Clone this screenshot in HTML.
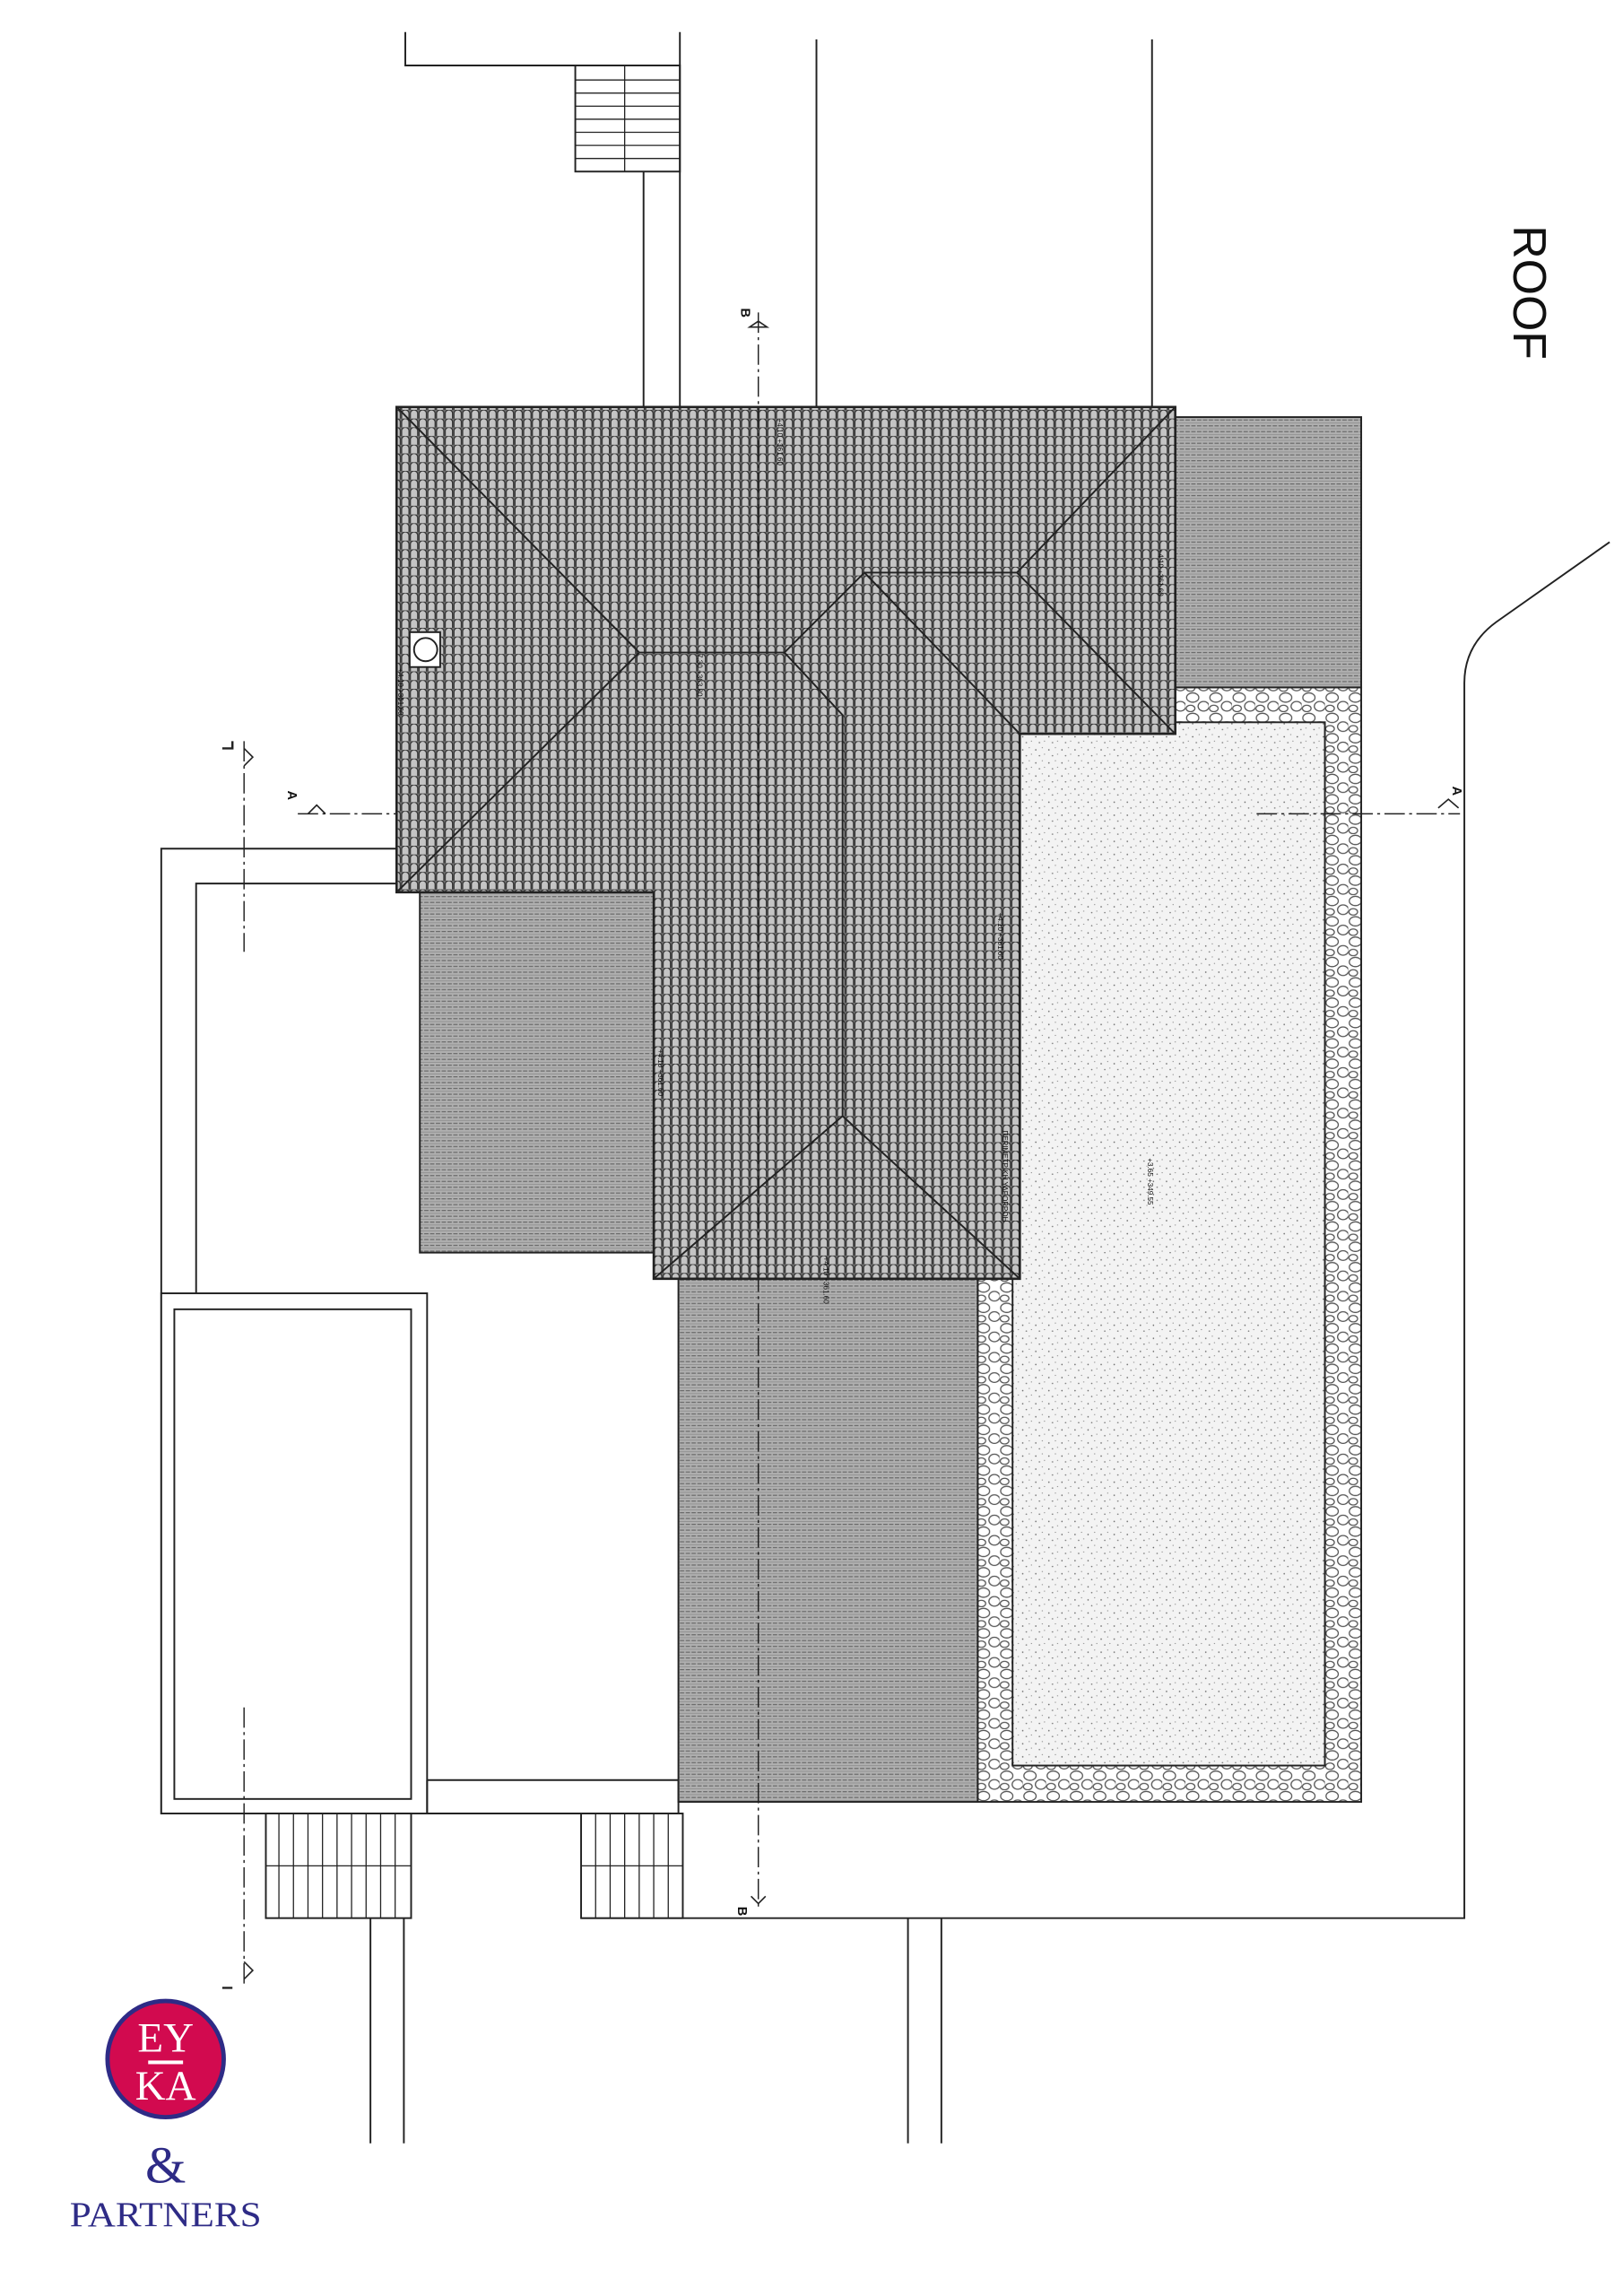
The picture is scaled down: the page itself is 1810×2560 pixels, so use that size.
<!DOCTYPE html>
<html><head><meta charset="utf-8"><style>html,body{margin:0;padding:0;background:#fff}svg{display:block}</style></head>
<body>
<svg width="1810" height="2560" viewBox="0 0 1117.2 1580" xmlns="http://www.w3.org/2000/svg">
<defs>
<pattern id="tile" width="6" height="6" patternUnits="userSpaceOnUse">
<rect width="6" height="6" fill="#6e6e6e"/>
<path d="M0.5,6 V2.5 A2.5,2.5 0 0 1 5.5,2.5 V6" fill="#c4c4c4" stroke="#2a2a2a" stroke-width="0.7"/>
</pattern>
<pattern id="slab" width="8" height="4" patternUnits="userSpaceOnUse">
<rect width="8" height="4" fill="#b0b0b0"/>
<line x1="0" y1="1" x2="8" y2="1" stroke="#6a6a6a" stroke-width="0.7" stroke-dasharray="3,1"/>
<line x1="0" y1="3" x2="8" y2="3" stroke="#8a8a8a" stroke-width="0.5"/>
</pattern>
<pattern id="stone" width="16" height="14" patternUnits="userSpaceOnUse">
<rect width="16" height="14" fill="#fff"/>
<ellipse cx="5" cy="4" rx="4.2" ry="3.2" fill="none" stroke="#555" stroke-width="0.8"/>
<ellipse cx="12.5" cy="10" rx="3.8" ry="3.3" fill="none" stroke="#555" stroke-width="0.8"/>
<ellipse cx="3.5" cy="11.5" rx="3" ry="2.2" fill="none" stroke="#555" stroke-width="0.8"/>
</pattern>
<pattern id="dots" width="9" height="9" patternUnits="userSpaceOnUse">
<rect width="9" height="9" fill="#f3f3f3"/>
<circle cx="2" cy="3" r="0.5" fill="#666"/><circle cx="6.5" cy="1.5" r="0.4" fill="#888"/>
<circle cx="4.5" cy="7" r="0.5" fill="#777"/><circle cx="8" cy="6" r="0.4" fill="#888"/>
</pattern>
</defs>
<g fill="none" stroke="#222" stroke-width="1.2">
<polyline points="279,22 279,45 468,45"/>
<rect x="396" y="45" width="72" height="73" fill="#fff"/>
<g stroke-width="0.8"><line x1="396" y1="55" x2="468" y2="55"/><line x1="396" y1="64" x2="468" y2="64"/><line x1="396" y1="73" x2="468" y2="73"/><line x1="396" y1="82" x2="468" y2="82"/><line x1="396" y1="91" x2="468" y2="91"/><line x1="396" y1="100" x2="468" y2="100"/><line x1="396" y1="109" x2="468" y2="109"/><line x1="430" y1="45" x2="430" y2="118"/></g>
<line x1="468" y1="22" x2="468" y2="280"/>
<line x1="443" y1="118" x2="443" y2="280"/>
<line x1="562" y1="27" x2="562" y2="280"/>
<line x1="793" y1="27" x2="793" y2="280"/>
<path d="M1108,373 L1030,428 Q1008,444 1008,470 L1008,1320 L400,1320"/>
<line x1="625" y1="1320" x2="625" y2="1475"/><line x1="648" y1="1320" x2="648" y2="1475"/>
<rect x="673" y="473" width="264" height="767" fill="url(#stone)"/>
<rect x="697" y="497" width="215" height="718" fill="url(#dots)"/>
<rect x="809" y="287" width="128" height="186" fill="url(#slab)"/>
<rect x="289" y="614" width="161" height="248" fill="url(#slab)"/>
<rect x="467" y="880" width="206" height="360" fill="url(#slab)"/>
<path d="M273,280 L809,280 L809,505 L702,505 L702,880 L450,880 L450,614 L273,614 Z" fill="url(#tile)" stroke-width="1.6"/>
<path d="M273,280 L440,449 L273,614 M440,449 L540,449 L580,492 L580,768 L450,880 M580,768 L702,880 M540,449 L595,394 L700,394 L809,280 M700,394 L809,505 M595,394 L702,505"/>
<rect x="282" y="435" width="21" height="24" fill="#fff"/><circle cx="293" cy="447" r="8" fill="#fff"/>
<polyline points="273,584 111,584 111,1248 467,1248 467,1225 294,1225"/>
<polyline points="273,608 135,608 135,890"/>
<rect x="111" y="890" width="183" height="358" fill="#fff"/>
<rect x="120" y="901" width="163" height="337"/>
<line x1="294" y1="1248" x2="294" y2="1225"/>
<rect x="183" y="1248" width="100" height="72" fill="#fff"/>
<g stroke-width="0.8"><line x1="192" y1="1248" x2="192" y2="1320"/><line x1="202" y1="1248" x2="202" y2="1320"/><line x1="212" y1="1248" x2="212" y2="1320"/><line x1="222" y1="1248" x2="222" y2="1320"/><line x1="232" y1="1248" x2="232" y2="1320"/><line x1="242" y1="1248" x2="242" y2="1320"/><line x1="252" y1="1248" x2="252" y2="1320"/><line x1="262" y1="1248" x2="262" y2="1320"/><line x1="272" y1="1248" x2="272" y2="1320"/><line x1="183" y1="1284" x2="283" y2="1284"/></g>
<rect x="400" y="1248" width="70" height="72" fill="#fff"/>
<g stroke-width="0.8"><line x1="410" y1="1248" x2="410" y2="1320"/><line x1="420" y1="1248" x2="420" y2="1320"/><line x1="430" y1="1248" x2="430" y2="1320"/><line x1="440" y1="1248" x2="440" y2="1320"/><line x1="450" y1="1248" x2="450" y2="1320"/><line x1="460" y1="1248" x2="460" y2="1320"/><line x1="400" y1="1284" x2="470" y2="1284"/></g>
<line x1="255" y1="1320" x2="255" y2="1475"/><line x1="278" y1="1320" x2="278" y2="1475"/>
<g stroke-dasharray="14,3,2,3" stroke-width="0.9">
<line x1="522" y1="215" x2="522" y2="1312"/>
<line x1="168" y1="510" x2="168" y2="655"/>
<line x1="168" y1="1175" x2="168" y2="1365"/>
<line x1="205" y1="560" x2="273" y2="560"/>
<line x1="865" y1="560" x2="1005" y2="560"/>
</g>
<path d="M516,225 L522,221 L528,225 Z M212,560 L218,554 L224,560 M990,556 L997,550 L1004,556 M168,515 L174,521 L168,527 M168,1350 L174,1356 L168,1362" stroke-width="1"/>
<path d="M517,1305 L522,1310 L527,1305" stroke-width="1"/>
<path d="M153,515 L160,515 L160,510 M153,1368 L160,1368" stroke-width="1.5"/>
</g>
<g font-family="Liberation Sans, sans-serif" fill="#111">
<text x="510" y="212" font-size="9" font-weight="bold" transform="rotate(90 510 212)">B</text>
<text x="508" y="1312" font-size="9" font-weight="bold" transform="rotate(90 508 1312)">B</text>
<text x="198" y="544" font-size="9" font-weight="bold" transform="rotate(90 198 544)">A</text>
<text x="1000" y="541" font-size="9" font-weight="bold" transform="rotate(90 1000 541)">A</text>
<text x="1042" y="155" font-size="32" transform="rotate(90 1042 155)">ROOF</text>
<g font-size="5">
<text x="535" y="288" transform="rotate(90 535 288)">+4.10 +361.60</text>
<text x="797" y="378" transform="rotate(90 797 378)">+4.10 +361.60</text>
<text x="480" y="447" transform="rotate(90 480 447)">+7.30 +363.80</text>
<text x="274" y="460" transform="rotate(90 274 460)">+4.10 +361.60</text>
<text x="687" y="628" transform="rotate(90 687 628)">+4.10 +361.60</text>
<text x="453" y="722" transform="rotate(90 453 722)">+4.10 +361.60</text>
<text x="690" y="778" transform="rotate(90 690 778)">ΠΕΡΙΜΕΤΡΙΚΗ ΥΔΡΟΡΡΟΗ</text>
<text x="790" y="797" transform="rotate(90 790 797)">+3.65 +349.55</text>
<text x="567" y="865" transform="rotate(90 567 865)">+4.10 +361.60</text>
</g>
</g>
<circle cx="114" cy="1417" r="40" fill="#d20a4f" stroke="#2e2b86" stroke-width="3"/>
<g font-family="Liberation Serif, serif" fill="#fff" text-anchor="middle">
<text x="114" y="1412" font-size="29">EY</text>
<rect x="102" y="1418" width="24" height="2.5"/>
<text x="114" y="1445" font-size="29">KA</text>
</g>
<g font-family="Liberation Serif, serif" fill="#2e2b86" text-anchor="middle">
<text x="114" y="1502" font-size="36">&amp;</text>
<text x="114" y="1532" font-size="24" textLength="132" lengthAdjust="spacingAndGlyphs">PARTNERS</text>
</g>
</svg>
</body></html>
